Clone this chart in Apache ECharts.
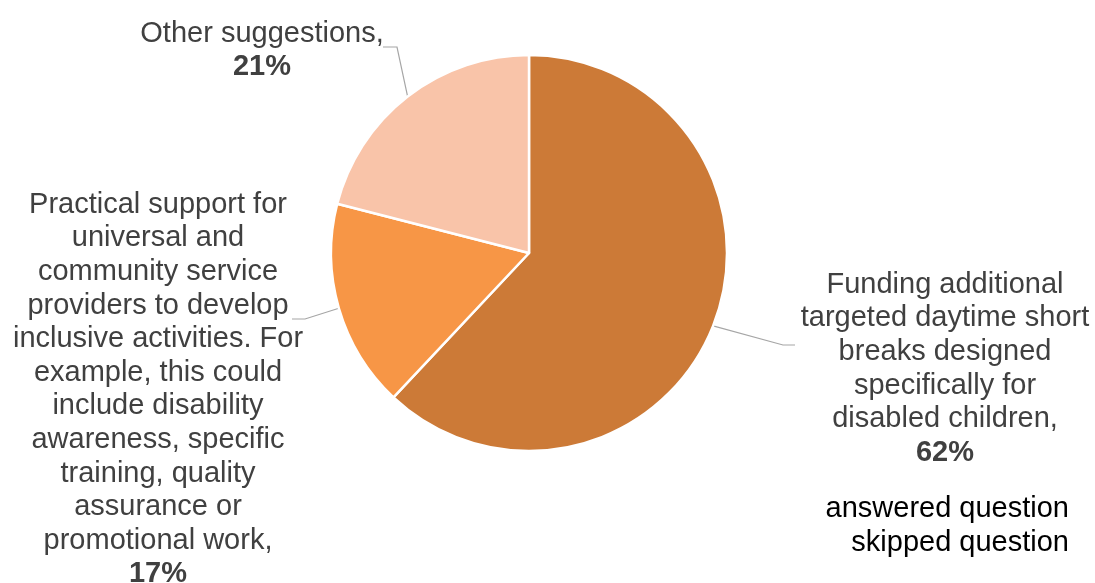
<!DOCTYPE html>
<html>
<head>
<meta charset="utf-8">
<script src="https://cdn.jsdelivr.net/npm/echarts@6/dist/echarts.min.js"></script>
<style>
  html, body { margin: 0; padding: 0; background: #fff; }
  #chart { width: 1095px; height: 583px; }
</style>
</head>
<body>
<div id="chart"></div>
<script>
// Survey options and the share of respondents choosing each
const categories = [
  'Funding additional\ntargeted daytime short\nbreaks designed\nspecifically for\ndisabled children',
  'Practical support for\nuniversal and\ncommunity service\nproviders to develop\ninclusive activities. For\nexample, this could\ninclude disability\nawareness, specific\ntraining, quality\nassurance or\npromotional work',
  'Other suggestions'
];
const shares = [62, 17, 21];
const sliceColors = ['#CC7A37', '#F79646', '#F9C4A9'];
const footNotes = ['answered question', 'skipped question'];

// Where each label block sits (centre x, top y)
const labelSpots = [
  { x: 945, y: 268 },
  { x: 158, y: 188 },
  { x: 262, y: 17 }
];
// Leader line bend and end point next to each label
const leaderBends = [
  { bend: [783, 345], end: [795, 345] },
  { bend: [305, 319], end: [292, 319] },
  { bend: [397, 47], end: [383, 47] }
];

const FONT = '"Liberation Sans", Arial, sans-serif';
const chart = echarts.init(document.getElementById('chart'));

chart.setOption({
  animation: false,
  backgroundColor: '#fff',
  series: [{
    type: 'pie',
    center: [529, 253],
    radius: 198,
    startAngle: 90,
    clockwise: true,
    data: categories.map((name, i) => ({
      name,
      value: shares[i],
      itemStyle: { color: sliceColors[i] }
    })),
    itemStyle: { borderColor: '#fff', borderWidth: 2.5 },
    label: {
      show: true,
      position: 'outside',
      formatter: p => p.name + ',\n{b|' + p.value + '%}',
      color: '#404040',
      fontFamily: FONT,
      fontSize: 29,
      lineHeight: 33.6,
      align: 'center',
      rich: {
        b: { fontWeight: 'bold', fontSize: 29, lineHeight: 33.6, color: '#404040', fontFamily: FONT }
      }
    },
    labelLine: {
      show: true,
      length: 20,
      length2: 12,
      lineStyle: { color: '#A6A6A6', width: 1.2 }
    },
    labelLayout: p => {
      const spot = labelSpots[p.dataIndex];
      const lb = leaderBends[p.dataIndex];
      const out = { x: spot.x, y: spot.y, align: 'center', verticalAlign: 'top' };
      if (p.labelLinePoints && p.labelLinePoints.length) {
        // start on the slice edge where the library anchors it
        out.labelLinePoints = [p.labelLinePoints[0], lb.bend, lb.end];
      }
      return out;
    },
    emphasis: { disabled: true }
  }],
  graphic: footNotes.map((t, i) => ({
    type: 'text',
    right: 26,
    top: 494 + i * 34,
    style: {
      text: t,
      fill: '#000',
      font: '29px ' + FONT,
      textAlign: 'right'
    }
  }))
});
</script>
</body>
</html>
